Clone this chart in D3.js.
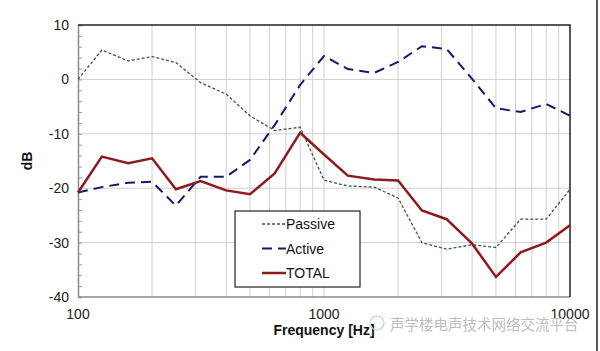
<!DOCTYPE html>
<html>
<head>
<meta charset="utf-8">
<script src="https://cdn.jsdelivr.net/npm/d3@7"></script>
<style>
  body { margin: 0; background: #fff; }
  svg { display: block; font-family: "Liberation Sans", Arial, sans-serif; }
</style>
</head>
<body>
<script>
// 1/3 octave band centres
const freqs = [100, 125, 160, 200, 250, 315, 400, 500, 630, 800, 1000,
  1250, 1600, 2000, 2500, 3150, 4000, 5000, 6300, 8000, 10000];
const passive = [0, 5.4, 3.4, 4.2, 3.1, -0.6, -2.7, -6.7, -9.4, -8.8, -18.5,
  -19.6, -19.8, -21.8, -30.0, -31.2, -30.4, -30.9, -25.7, -25.7, -20.2];
const active = [-20.8, -19.8, -19.0, -18.8, -23.2, -17.9, -17.9, -14.8, -8.4, -1.0, 4.3,
  1.9, 1.2, 3.2, 6.1, 5.6, 0.1, -5.3, -6.0, -4.5, -6.7];
const total = [-20.8, -14.2, -15.4, -14.5, -20.2, -18.7, -20.4, -21.1, -17.3, -9.8, -13.8,
  -17.7, -18.4, -18.6, -24.1, -25.7, -30.2, -36.3, -31.8, -30.0, -26.8];
const yTicks = [10, 0, -10, -20, -30, -40];
const xTicks = [100, 1000, 10000];

const w = 600, h = 351;
const margin = {left: 78, right: 30, top: 25, bottom: 54};

const svg = d3.select("body").append("svg")
  .attr("width", w)
  .attr("height", h);

const x = d3.scaleLog().domain([100, 10000]).range([margin.left, w - margin.right]);
const y = d3.scaleLinear().domain([-40, 10]).range([h - margin.bottom, margin.top]);

// grid lines
const minorFreqs = [];
[100, 1000].forEach(d => { for (let k = 2; k <= 9; k++) minorFreqs.push(d * k); });
minorFreqs.push(1000);

svg.append("g")
  .selectAll("line")
  .data(minorFreqs)
  .join("line")
  .attr("x1", d => x(d)).attr("x2", d => x(d))
  .attr("y1", y(10)).attr("y2", y(-40))
  .attr("stroke", "#cfcfcf")
  .attr("stroke-width", 1);

svg.append("g")
  .selectAll("line")
  .data([0, -10, -20, -30])
  .join("line")
  .attr("x1", x(100)).attr("x2", x(10000))
  .attr("y1", d => y(d)).attr("y2", d => y(d))
  .attr("stroke", "#cfcfcf")
  .attr("stroke-width", 1);

// left axis with minor ticks pointing inside
const yAxis = d3.axisRight(y)
  .tickValues(d3.range(-40, 10.1, 2))
  .tickSize(4)
  .tickFormat("");
svg.append("g")
  .attr("transform", `translate(${x(100)},0)`)
  .call(yAxis)
  .call(g => g.select(".domain").attr("stroke", "#8a8a8a").attr("stroke-width", 1.5))
  .call(g => g.selectAll(".tick line").attr("stroke", "#9a9a9a"));

svg.append("g")
  .selectAll("text")
  .data(yTicks)
  .join("text")
  .attr("x", x(100) - 9)
  .attr("y", d => y(d) + 5)
  .attr("text-anchor", "end")
  .attr("font-size", 14)
  .attr("fill", "#222")
  .text(d => d);

// bottom axis
svg.append("line")
  .attr("x1", x(100)).attr("x2", x(10000))
  .attr("y1", y(-40)).attr("y2", y(-40))
  .attr("stroke", "#8a8a8a").attr("stroke-width", 1.5);

svg.append("g")
  .selectAll("text")
  .data(xTicks)
  .join("text")
  .attr("x", d => x(d))
  .attr("y", y(-40) + 22)
  .attr("text-anchor", "middle")
  .attr("font-size", 14)
  .attr("fill", "#222")
  .text(d => d);

// top and right frame
svg.append("path")
  .attr("d", `M${x(100)},${y(10)}H${x(10000)}V${y(-40)}`)
  .attr("fill", "none")
  .attr("stroke", "#222")
  .attr("stroke-width", 1.5);

// series
const line = d3.line()
  .x((d, i) => x(freqs[i]))
  .y(d => y(d));

svg.append("path")
  .datum(passive)
  .attr("d", line)
  .attr("fill", "none")
  .attr("stroke", "#3b5a3b")
  .attr("stroke-width", 1.3)
  .attr("stroke-dasharray", "3,2");

svg.append("path")
  .datum(active)
  .attr("d", line)
  .attr("fill", "none")
  .attr("stroke", "#141a6b")
  .attr("stroke-width", 2)
  .attr("stroke-dasharray", "10,6");

svg.append("path")
  .datum(total)
  .attr("d", line)
  .attr("fill", "none")
  .attr("stroke", "#8c1a1e")
  .attr("stroke-width", 2.5);

// legend
const legend = svg.append("g").attr("transform", "translate(235,211)");
legend.append("rect")
  .attr("width", 125).attr("height", 76)
  .attr("fill", "#fff")
  .attr("stroke", "#222")
  .attr("stroke-width", 1.2);

const legendItems = [
  {name: "Passive", color: "#3b5a3b", dash: "3,2", width: 1.3},
  {name: "Active", color: "#141a6b", dash: "10,6", width: 2},
  {name: "TOTAL", color: "#8c1a1e", dash: null, width: 2.5}
];
legendItems.forEach((d, i) => {
  const yy = 13 + i * 24.5;
  legend.append("line")
    .attr("x1", 27).attr("x2", 51)
    .attr("y1", yy).attr("y2", yy)
    .attr("stroke", d.color)
    .attr("stroke-width", d.width)
    .attr("stroke-dasharray", d.dash);
  legend.append("text")
    .attr("x", 51)
    .attr("y", yy + 5)
    .attr("font-size", 14)
    .attr("fill", "#111")
    .text(d.name);
});

// axis titles
svg.append("text")
  .attr("x", x(1000))
  .attr("y", 335)
  .attr("text-anchor", "middle")
  .attr("font-size", 14)
  .attr("font-weight", "bold")
  .attr("fill", "#111")
  .text("Frequency [Hz]");

svg.append("text")
  .attr("transform", `translate(32,${(y(10) + y(-40)) / 2}) rotate(-90)`)
  .attr("text-anchor", "middle")
  .attr("font-size", 14)
  .attr("font-weight", "bold")
  .attr("fill", "#111")
  .text("dB");

// watermark
svg.append("circle")
  .attr("cx", 377).attr("cy", 323).attr("r", 7)
  .attr("fill", "none").attr("stroke", "#c9c9c9").attr("stroke-width", 1.2);
svg.append("text")
  .attr("x", 390)
  .attr("y", 330)
  .attr("font-family", "Noto Sans CJK SC")
  .attr("font-size", 14.5)
  .attr("fill", "#bdbdbd")
  .text("声学楼电声技术网络交流平台");

// image frame at right edge
svg.append("line")
  .attr("x1", 597).attr("x2", 597)
  .attr("y1", 0).attr("y2", h)
  .attr("stroke", "#222").attr("stroke-width", 1.5);
</script>
</body>
</html>
